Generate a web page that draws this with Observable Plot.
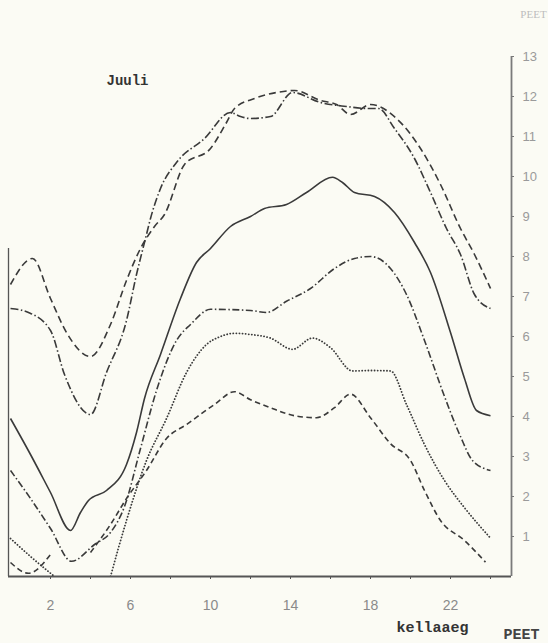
<!DOCTYPE html>
<html>
<head>
<meta charset="utf-8">
<script src="https://cdn.jsdelivr.net/npm/d3@7"></script>
<script src="https://cdn.jsdelivr.net/npm/@observablehq/plot@0.6"></script>
<style>
  html, body { margin: 0; padding: 0; background: #fbfbf4; }
  #chart { width: 548px; height: 643px; overflow: hidden; }
</style>
</head>
<body>
<div id="chart"></div>
<script>
// ---- data (hour of day, value) ----
const dashedTopH = [0, 1.1, 2, 2.8, 4, 5, 5.8, 6.5, 7.2, 7.7, 8.7, 10, 10.8, 11.2, 12.2, 13.3, 14.2, 15.5, 16.3, 17, 18, 19.3, 20.5, 21.5, 22.5, 23.2, 24];
const dashedTopV = [7.3, 7.95, 6.95, 6.1, 5.5, 6.3, 7.4, 8.2, 8.75, 9.05, 10.3, 10.7, 11.35, 11.7, 11.95, 12.1, 12.15, 11.9, 11.8, 11.55, 11.8, 11.45, 10.7, 9.8, 8.7, 8.05, 7.2];

const dashDotTopH = [0, 0.9, 2, 2.7, 4, 4.8, 5.8, 6.3, 6.75, 7, 7.5, 8.3, 9.7, 11, 11.5, 12, 13, 14.1, 15.5, 16.8, 17.8, 18.4, 19.2, 20.2, 21, 21.8, 22.5, 23.2, 24];
const dashDotTopV = [6.7, 6.6, 6.15, 5.05, 4.05, 5.1, 6.4, 7.55, 8.45, 8.95, 9.7, 10.35, 10.95, 11.6, 11.5, 11.45, 11.5, 12.1, 11.85, 11.75, 11.7, 11.7, 11.2, 10.45, 9.6, 8.7, 8.05, 7.05, 6.7];

const solidH = [0, 1, 2, 3, 3.5, 3.9, 4.8, 5.8, 6.3, 6.7, 7.5, 8.5, 9.3, 10, 11, 12, 12.7, 13.8, 14.8, 16.1, 16.6, 17.2, 18.2, 19.2, 20.2, 21, 22, 22.7, 23.3, 24];
const solidV = [3.95, 3.05, 2.1, 1.15, 1.6, 1.9, 2.15, 2.8, 3.6, 4.45, 5.55, 6.95, 7.85, 8.2, 8.75, 9.0, 9.2, 9.3, 9.6, 9.98, 9.85, 9.6, 9.5, 9.1, 8.35, 7.6, 6.1, 4.95, 4.15, 4.02];

const dashDotMidH = [0, 1, 2, 3.05, 4.2, 5, 5.7, 6.5, 7.3, 8.3, 9, 10, 12, 12.8, 13.8, 15, 16.2, 17.2, 18, 19, 19.8, 20.7, 21.7, 22.5, 23.1, 24];
const dashDotMidV = [2.65, 1.95, 1.2, 0.38, 0.8, 1.1, 1.75, 3.2, 4.65, 5.9, 6.3, 6.68, 6.65, 6.6, 6.88, 7.2, 7.7, 7.95, 8.0, 7.7, 7.05, 5.9, 4.5, 3.5, 2.9, 2.65];

const dottedH = [0, 1, 2.2, 3.5, 5, 5.8, 6.8, 7.8, 8.8, 9.8, 10.5, 11.2, 12, 13, 14.1, 15.1, 16, 17.1, 18, 19, 19.8, 20.7, 21.7, 22.7, 24];
const dottedV = [0.95, 0.5, 0, null, 0, 1.4, 2.9, 3.95, 5.1, 5.8, 6.0, 6.08, 6.05, 5.96, 5.68, 5.96, 5.72, 5.14, 5.15, 5.14, 4.3, 3.3, 2.4, 1.72, 0.96];

const dashedLowH = [0, 0.9, 2, 3, 4, 5, 5.8, 6.8, 7.8, 8.8, 10.2, 11.2, 12, 13, 14.2, 15.3, 16.2, 17, 18, 19, 20, 20.7, 21.5, 22.7, 23.75];
const dashedLowV = [0.35, 0.08, 0.55, null, 0.6, 1.3, 1.95, 2.65, 3.45, 3.8, 4.3, 4.62, 4.42, 4.22, 4.02, 3.97, 4.22, 4.56, 3.97, 3.32, 2.9, 2.15, 1.4, 0.9, 0.36];

const xTicks = [2, 4, 6, 8, 10, 12, 14, 16, 18, 20, 22, 24];
const xTickLabels = ["2", "", "6", "", "10", "", "14", "", "18", "", "22", ""];
const yTicks = [1, 2, 3, 4, 5, 6, 7, 8, 9, 10, 11, 12, 13];

const titleText = "Juuli";
const xLabelText = "kellaaeg";
const cornerText = "PEET";

// ---- build tables ----
const rows = (hs, vs) => hs.map((h, i) => ({h, v: vs[i]}));
const ink = "#3a3a3a";
const series = [
  {data: rows(dashedTopH, dashedTopV), dash: "7,4"},
  {data: rows(dashDotTopH, dashDotTopV), dash: "8,2.5,1.5,2.5"},
  {data: rows(solidH, solidV), dash: null},
  {data: rows(dashDotMidH, dashDotMidV), dash: "7,2.5,1.5,2.5"},
  {data: rows(dottedH, dottedV), dash: "0.1,3", cap: "round"},
  {data: rows(dashedLowH, dashedLowV), dash: "5.5,3.5"}
];

const chart = Plot.plot({
  width: 548,
  height: 643,
  marginLeft: 8,
  marginRight: 37,
  marginTop: 56,
  marginBottom: 67,
  style: {background: "#fbfbf4", fontFamily: "'Liberation Sans', Arial, sans-serif", fontSize: "13px", overflow: "visible"},
  x: {domain: [-0.1, 25.05]},
  y: {domain: [0, 13]},
  marks: [
    // frame pieces
    Plot.ruleY([0], {x1: -0.1, x2: 25.05, stroke: "#555", strokeWidth: 2}),
    Plot.ruleX([25.05], {y1: 0, y2: 13, stroke: "#7a7a7a", strokeWidth: 1.8}),
    Plot.ruleX([-0.1], {y1: 0, y2: 8.2, stroke: "#555", strokeWidth: 1.3}),
    // curves
    ...series.map(s => Plot.line(s.data, {
      x: "h", y: "v", curve: "monotone-x", clip: true,
      stroke: ink, strokeWidth: s.cap ? 1.8 : 1.6,
      strokeDasharray: s.dash ?? undefined,
      strokeLinecap: s.cap ?? "butt"
    })),
    // axes
    Plot.axisX({
      ticks: xTicks, tickSize: 3, tickPadding: 21,
      tickFormat: (d) => xTickLabels[xTicks.indexOf(d)],
      stroke: "#555", fill: "#8a8a8a", fontSize: 14, label: null
    }),
    Plot.axisY({
      anchor: "right", ticks: yTicks, tickSize: 2, tickPadding: 9,
      stroke: "#777", fill: "#9a9a9a", fontSize: 13, label: null, textAnchor: "start"
    }),
    // texts
    Plot.text([titleText], {x: 5.85, y: 12.4, text: d => d, fontFamily: "'Liberation Mono', monospace", fontWeight: "bold", fontSize: 14, fill: "#333"}),
    Plot.text([xLabelText], {x: 21.1, y: -1.27, text: d => d, fontFamily: "'Liberation Mono', monospace", fontWeight: "bold", fontSize: 15, fill: "#333"}),
    Plot.text([cornerText], {x: 26.15, y: 14.05, text: d => d, fontFamily: "'Liberation Serif', serif", fontSize: 11, fill: "#bdbdbd"}),
    Plot.text([cornerText], {x: 24.65, y: -1.43, text: d => d, textAnchor: "start", fontFamily: "'Liberation Mono', monospace", fontWeight: "bold", fontSize: 15, fill: "#444"})
  ]
});
document.getElementById("chart").appendChild(chart);
</script>
</body>
</html>
